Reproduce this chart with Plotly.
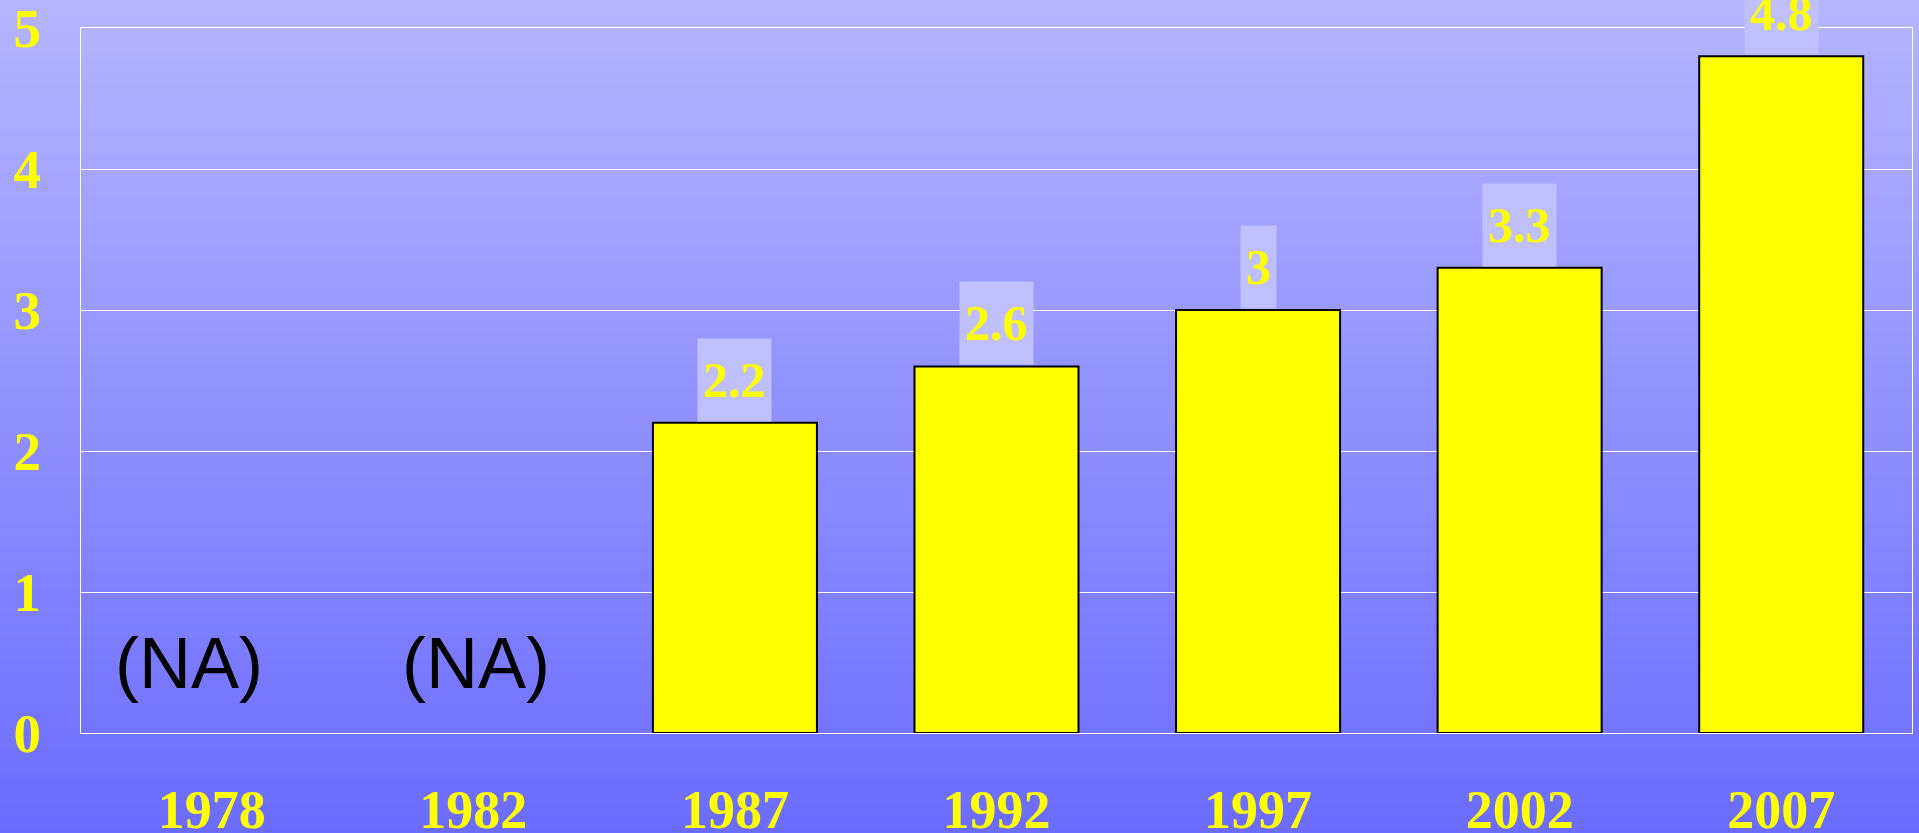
import plotly.graph_objects as go

years = ["1978", "1982", "1987", "1992", "1997", "2002", "2007"]
values = [None, None, 2.2, 2.6, 3.0, 3.3, 4.8]
value_labels = ["", "", "2.2", "2.6", "3", "3.3", "4.8"]
na_years = ["1978", "1982"]
na_text = "(NA)"
y_ticks = [0, 1, 2, 3, 4, 5]

W, H = 1919, 833
ML, MR, MT, MB = 81, 7, 28, 100

fig = go.Figure()
fig.add_trace(go.Bar(
    x=years, y=values,
    marker=dict(color="#ffff00", line=dict(color="#000000", width=2)),
    hoverinfo="x+y",
))

# background vertical gradient as thin stripes (paper coordinates covering full figure)
pw = W - ML - MR
ph = H - MT - MB
top_c = (181, 181, 255)
bot_c = (107, 107, 255)
n = 140
shapes = []
for i in range(n):
    p0 = H * i / n - (1 if i == 0 else 0)
    p1 = H * (i + 1) / n + 1
    t = (i + 0.5) / n
    c = tuple(round(top_c[k] + (bot_c[k] - top_c[k]) * t) for k in range(3))
    shapes.append(dict(
        type="rect", xref="paper", yref="paper", layer="below",
        x0=-(ML + 2) / pw, x1=(W - ML + 2) / pw,
        y0=(H - MB - p1) / ph, y1=(H - MB - p0) / ph,
        fillcolor="rgb(%d,%d,%d)" % c, line=dict(width=0),
    ))

annotations = []
for idx, (yr, v, lab) in enumerate(zip(years, values, value_labels)):
    if v is None:
        continue
    annotations.append(dict(
        x=idx, y=v, xref="x", yref="y", text="<b>%s</b>" % lab, showarrow=False,
        yanchor="bottom", xanchor="center", yshift=1,
        bgcolor="#c0c0ff", borderpad=5, height=72,
        font=dict(family="Liberation Serif", size=50, color="#ffff00", weight="bold"),
    ))
for i, yr in enumerate(na_years):
    annotations.append(dict(
        x=years.index(yr), y=0.5, xref="x", yref="y", text=na_text, showarrow=False,
        xanchor="center", yanchor="middle", xshift=-23 if i == 0 else 3,
        font=dict(family="Liberation Sans", size=72, color="#000000"),
    ))

fig.update_layout(
    width=W, height=H, autosize=False,
    margin=dict(l=ML, r=MR, t=MT, b=MB, pad=0, autoexpand=False),
    paper_bgcolor="#6b6bff",
    plot_bgcolor="rgba(0,0,0,0)",
    showlegend=False,
    bargap=0.373,
    shapes=shapes,
    annotations=annotations,
    xaxis=dict(
        type="category", categoryorder="array", categoryarray=years,
        tickvals=years, ticktext=["<b>%s</b>" % y for y in years],
        range=[-0.5, len(years) - 0.5], automargin=False,
        showgrid=False, showline=True, linecolor="#ffffff", linewidth=1, mirror=True,
        ticks="", ticklabelstandoff=29,
        tickfont=dict(family="Liberation Serif", size=54, color="#ffff00", weight="bold"),
    ),
    yaxis=dict(
        range=[0, 5], tickvals=y_ticks, ticktext=["<b>%d</b>" % t for t in y_ticks],
        automargin=False,
        showgrid=True, gridcolor="#ffffff", gridwidth=1,
        zeroline=False, showline=True, linecolor="#ffffff", linewidth=1, mirror=True,
        ticks="", ticklabelstandoff=28, ticklabeloverflow="allow",
        tickfont=dict(family="Liberation Serif", size=55, color="#ffff00", weight="bold"),
    ),
)

fig.write_html(
    "out.html",
    config={"displayModeBar": False},
    post_script="document.body.style.margin='0px';document.body.style.overflow='hidden';",
)
